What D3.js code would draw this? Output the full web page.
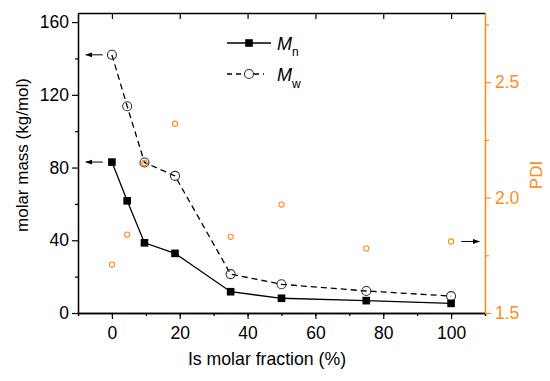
<!DOCTYPE html>
<html>
<head>
<meta charset="utf-8">
<script src="https://cdn.jsdelivr.net/npm/d3@7"></script>
<style>
  body { margin: 0; background: #fff; }
  text { font-family: "Liberation Sans", Arial, sans-serif; }
</style>
</head>
<body>
<svg id="chart" width="550" height="381"></svg>
<script>
// data
var fraction = [0, 4.5, 9.6, 18.6, 35, 50, 75, 100];
var Mn = [83, 61.7, 38.6, 32.8, 11.7, 8.1, 6.8, 5.3];
var Mw = [142, 113.7, 82.8, 75.4, 21.4, 15.8, 12.1, 9.3];
var PDI = [1.71, 1.84, 2.15, 2.32, 1.83, 1.97, 1.78, 1.81];

var xTicks = [0, 20, 40, 60, 80, 100];
var yTicks = [0, 40, 80, 120, 160];
var pdiTicks = [1.5, 2.0, 2.5];

var orange = "#ff8c1a";

var svg = d3.select("#chart");
var margin = { top: 13, right: 65, bottom: 68, left: 78 };
var width = 550 - margin.left - margin.right,
    height = 381 - margin.top - margin.bottom;

var g = svg.append("g")
    .attr("transform", "translate(" + margin.left + "," + margin.top + ")");

var x = d3.scaleLinear().domain([-10, 110]).range([0, width]);
var y = d3.scaleLinear().domain([0, 165]).range([height, 0]);
var y2 = d3.scaleLinear().domain([1.5, 2.8]).range([height, 0]);

function styleAxis(sel, color) {
  sel.select(".domain").attr("stroke", color).attr("stroke-width", 1.3);
  sel.selectAll("line").attr("stroke", color).attr("stroke-width", 1.2);
  sel.selectAll("text").attr("fill", color).attr("font-size", "17.5px");
}

// minor ticks first, major on top
g.append("g")
    .attr("transform", "translate(0," + height + ")")
    .call(d3.axisBottom(x).tickValues(d3.range(-10, 111, 10)).tickSize(3).tickFormat(""))
    .call(styleAxis, "#000");
g.append("g")
    .attr("transform", "translate(0," + height + ")")
    .call(d3.axisBottom(x).tickValues(xTicks).tickSize(6).tickSizeOuter(0).tickPadding(8))
    .call(styleAxis, "#000");

g.append("g")
    .call(d3.axisTop(x).tickValues(xTicks).tickSize(-6).tickSizeOuter(0).tickFormat(""))
    .call(styleAxis, "#000");

g.append("g")
    .call(d3.axisLeft(y).tickValues(d3.range(20, 161, 40)).tickSize(3).tickFormat("").tickSizeOuter(0))
    .call(styleAxis, "#000");
g.append("g")
    .call(d3.axisLeft(y).tickValues(yTicks).tickSize(6).tickSizeOuter(0).tickPadding(3))
    .call(styleAxis, "#000");

g.append("g")
    .attr("transform", "translate(" + width + ",0)")
    .call(d3.axisRight(y2).tickValues([1.75, 2.25, 2.75]).tickSize(4).tickFormat("").tickSizeOuter(0))
    .call(styleAxis, orange);
g.append("g")
    .attr("transform", "translate(" + width + ",0)")
    .call(d3.axisRight(y2).tickValues(pdiTicks).tickSize(6).tickSizeOuter(0).tickPadding(4).tickFormat(d3.format(".1f")))
    .call(styleAxis, orange);

// axis titles
svg.append("text")
    .attr("x", 267)
    .attr("y", 365)
    .attr("text-anchor", "middle")
    .attr("font-size", "17.7px")
    .text("Is molar fraction (%)");

svg.append("text")
    .attr("transform", "translate(28,155) rotate(-90)")
    .attr("text-anchor", "middle")
    .attr("font-size", "17px")
    .text("molar mass (kg/mol)");

svg.append("text")
    .attr("transform", "translate(542,175) rotate(-90)")
    .attr("text-anchor", "middle")
    .attr("font-size", "17px")
    .attr("fill", orange)
    .text("PDI");

// lines
var lineMn = d3.line().x((d, i) => x(fraction[i])).y(d => y(d));
g.append("path").datum(Mn)
    .attr("d", lineMn).attr("fill", "none")
    .attr("stroke", "#000").attr("stroke-width", 1.3);
g.append("path").datum(Mw)
    .attr("d", lineMn).attr("fill", "none")
    .attr("stroke", "#000").attr("stroke-width", 1.3)
    .attr("stroke-dasharray", "6,4");

// PDI points
g.selectAll(".pdi").data(PDI).enter().append("circle")
    .attr("class", "pdi")
    .attr("cx", (d, i) => x(fraction[i]))
    .attr("cy", d => y2(d))
    .attr("r", 2.6)
    .attr("fill", "none")
    .attr("stroke", orange)
    .attr("stroke-width", 1.1);

g.selectAll(".mw").data(Mw).enter().append("circle")
    .attr("class", "mw")
    .attr("cx", (d, i) => x(fraction[i]))
    .attr("cy", d => y(d))
    .attr("r", 4.5)
    .attr("fill", "none")
    .attr("stroke", "#333")
    .attr("stroke-width", 1.1);

g.selectAll(".mn").data(Mn).enter().append("rect")
    .attr("class", "mn")
    .attr("x", (d, i) => x(fraction[i]) - 3.8)
    .attr("y", d => y(d) - 3.8)
    .attr("width", 7.6)
    .attr("height", 7.6)
    .attr("fill", "#000");

// arrows pointing to axes
svg.append("defs").append("marker")
    .attr("id", "arr")
    .attr("viewBox", "0 0 10 10")
    .attr("refX", 9).attr("refY", 5)
    .attr("markerWidth", 7).attr("markerHeight", 7)
    .attr("orient", "auto")
  .append("path")
    .attr("d", "M0,1.5 L10,5 L0,8.5 Z")
    .attr("fill", "#000");

function arrow(x1, x2, yy) {
  g.append("line")
      .attr("x1", x1).attr("x2", x2)
      .attr("y1", yy).attr("y2", yy)
      .attr("stroke", "#000").attr("stroke-width", 1)
      .attr("marker-end", "url(#arr)");
}
arrow(x(-2.7), x(-7.7), y(Mw[0]));
arrow(x(-2.7), x(-7.7), y(Mn[0]));
arrow(x(103), x(108.3), y2(PDI[7]));

// legend
var leg = g.append("g").attr("transform", "translate(" + (227 - margin.left) + "," + (43 - margin.top) + ")");
leg.append("line").attr("x1", 0).attr("x2", 44).attr("y1", 0).attr("y2", 0)
    .attr("stroke", "#000").attr("stroke-width", 1.3);
leg.append("rect").attr("x", 22 - 3.8).attr("y", -3.8).attr("width", 7.6).attr("height", 7.6).attr("fill", "#000");
leg.append("line").attr("x1", 0).attr("x2", 37).attr("y1", 31).attr("y2", 31)
    .attr("stroke", "#000").attr("stroke-width", 1.3).attr("stroke-dasharray", "5,4");
leg.append("circle").attr("cx", 22).attr("cy", 31).attr("r", 4.5)
    .attr("fill", "#fff").attr("stroke", "#333").attr("stroke-width", 1.1);

var t1 = leg.append("text").attr("x", 50).attr("y", 7).attr("font-size", "18px");
t1.append("tspan").attr("font-style", "italic").text("M");
t1.append("tspan").attr("font-size", "12px").attr("dy", 6).text("n");
var t2 = leg.append("text").attr("x", 50).attr("y", 38).attr("font-size", "18px");
t2.append("tspan").attr("font-style", "italic").text("M");
t2.append("tspan").attr("font-size", "12px").attr("dy", 7).text("w");
</script>
</body>
</html>
